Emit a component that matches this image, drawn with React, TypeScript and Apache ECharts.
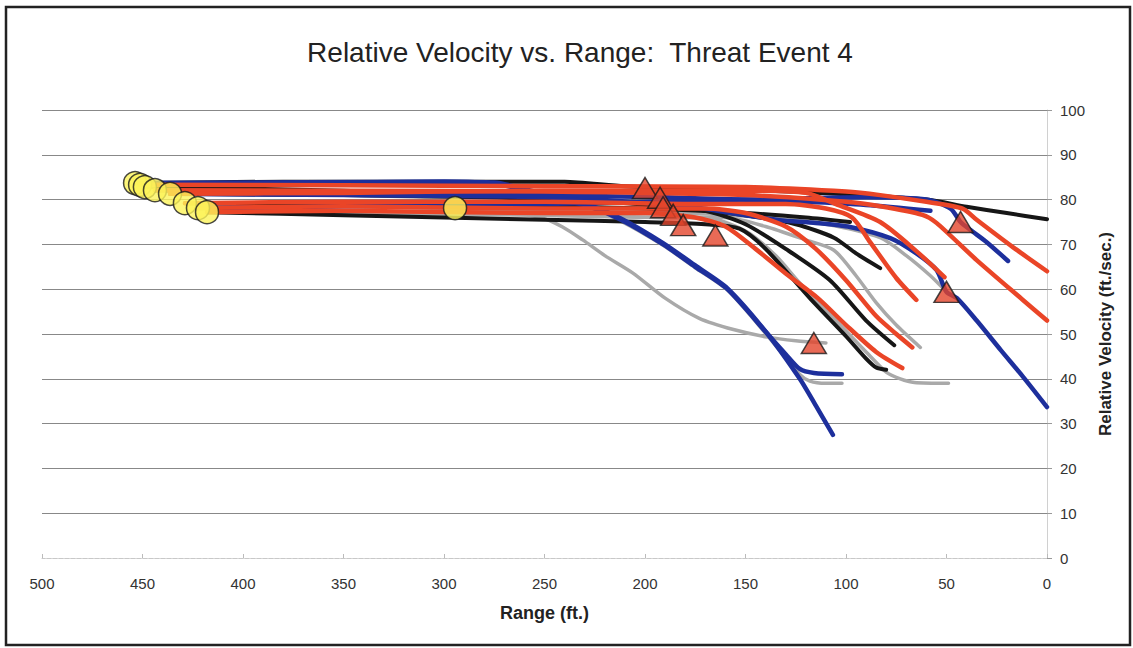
import React, { useEffect, useRef } from "react";
import * as echarts from "echarts";

// ---- data (Range ft., Relative Velocity ft/sec) ----
const startCircles = [
  [453.7, 83.7], [451.2, 83.3], [448.8, 82.8], [443.8, 82.1], [436.3, 81.3],
  [428.9, 79.2], [422.4, 78.1], [417.9, 77.2], [294.5, 78.1],
];
const eventTriangles = [
  [200, 82.6], [192.5, 80.4], [191, 78.3], [186, 76.6], [181, 74.3], [165, 72],
  [116, 48], [50, 59.4], [43, 75],
];

const black1 = [[453.7,83.7],[380,84],[300,84],[240,84],[210,83],[150,82.2],[100,81.2],[60,80],[40,78.4],[20,77],[0,75.6]];
const black2 = [[436.3,81.3],[350,81],[280,80.5],[220,79.5],[180,78],[150,76.5],[125,74.5],[106,71.5],[95,68],[83,64.7]];
const black3 = [[428.9,79.2],[350,79],[250,78.5],[200,78],[150,77],[120,76],[98,75]];
const black4 = [[417.9,77.2],[350,76.5],[250,75.5],[200,75],[170,74.5],[153,73.5],[140,69],[118,58],[100,49.5],[90,44.5],[85,42.5],[80,42]];
const black5 = [[448.8,82.8],[350,82],[260,80.5],[200,79],[170,77.5],[150,74.5],[130,69],[108,62],[90,53],[76,47.5]];

const red1 = [[451.2,83.3],[350,83.2],[250,83],[150,82.8],[100,81.8],[83,81],[60,79.5],[42,78],[35,75.5],[17,69.4],[0,64]];
const red2 = [[443.8,82.1],[350,82],[250,81.8],[150,81],[100,79.5],[83,78.5],[62,76.6],[55,74.8],[35,66.5],[12,57.6],[0,53]];
const red3 = [[436.3,81.3],[350,81.5],[250,82],[150,82],[120,81.5],[105,79],[83,75],[65,68.5],[51,62.7]];
const red4 = [[428.9,79.2],[350,79.5],[250,79.5],[170,79],[130,79],[110,78],[97,76],[88,70.5],[75,62.5],[65,57.6]];
const red5 = [[422.4,78.1],[350,78.5],[250,78],[170,78],[150,77],[130,74],[115,69],[100,62],[85,54],[75,50],[67,47]];
const red6 = [[417.9,77.2],[350,77.5],[250,77],[200,77],[175,76],[160,74],[145,69],[130,63.5],[114,58],[100,52],[85,46],[72,42.4]];

const blue1 = [[451.2,83.3],[300,84],[275,83.6],[255,81.5],[242,80],[228,78.5],[212,75.5],[191,70],[175,65],[159,60],[139,50],[130,45.5],[123,42.2],[116,41.3],[102,41]];
const blue2 = [[453.7,83.7],[300,84],[275,83.8],[255,81.8],[242,80.2],[228,78.8],[212,75.8],[191,70.3],[175,65.3],[159,60.2],[139,50],[123,40],[115,34],[106.5,27.5]];
const blue3 = [[436.3,81.3],[350,81],[250,80.5],[180,78.5],[150,76.5],[133,75.4],[115,74.8],[98,73.9],[78,71.4],[65,68],[55,64.3],[50,59.4],[44.8,58],[35,53],[23,46.4],[12,40.5],[0,33.7]];
const blue4 = [[443.8,82.1],[350,81.5],[250,81],[190,80.5],[153,80],[120,79.5],[90,78.8],[58,77.5]];
const blue5 = [[422.4,78.1],[350,78.5],[250,79],[150,80],[90,80.5],[60,80],[48,78],[43,75],[38,73.2],[30,70.5],[19.4,66.3]];

const gray1 = [[294.5,78.1],[270,77.2],[252,76],[241,73.9],[231,71],[220,67.5],[206,63.6],[190,58],[173,53.5],[156,51],[139,49.3],[125,48.5],[110,48]];
const gray2 = [[448.8,82.8],[350,81],[260,80],[242,79.8],[228,78.2],[212,75.2],[191,69.8],[175,64.8],[159,59.8],[139,49.6],[123,41],[118,39.5],[110,39],[102,39]];
const gray3 = [[422.4,78.1],[350,77.5],[250,76.5],[190,76],[170,76],[150,73],[135,67.5],[123,61.4],[105,53],[90,46],[80,41.5],[73,40],[66,39.2],[49,39]];
const gray4 = [[417.9,77.2],[350,77],[250,76.5],[180,76],[160,76],[140,74],[120,71],[106,68.7],[95,63],[85,57],[75,52],[63,47]];
const gray5 = [[428.9,79.2],[350,78.5],[250,77.5],[180,77],[140,76],[110,74.5],[83,71.5],[70,67.5],[58,63],[50,59.4]];

const BLACK = "#161616";
const RED = "#ea4527";
const BLUE = "#1d2f9c";
const GRAY = "#a9a9a9";

const traces = [
  { data: gray1, color: GRAY, w: 3.5 },
  { data: gray2, color: GRAY, w: 3.5 },
  { data: gray3, color: GRAY, w: 3.5 },
  { data: gray4, color: GRAY, w: 3.5 },
  { data: gray5, color: GRAY, w: 3.5 },
  { data: black1, color: BLACK, w: 4 },
  { data: black2, color: BLACK, w: 4 },
  { data: black3, color: BLACK, w: 4 },
  { data: black4, color: BLACK, w: 4 },
  { data: black5, color: BLACK, w: 4 },
  { data: blue1, color: BLUE, w: 4.5 },
  { data: blue2, color: BLUE, w: 4.5 },
  { data: blue3, color: BLUE, w: 4.5 },
  { data: blue4, color: BLUE, w: 4.5 },
  { data: blue5, color: BLUE, w: 4.5 },
  { data: red1, color: RED, w: 4.5 },
  { data: red2, color: RED, w: 4.5 },
  { data: red3, color: RED, w: 4.5 },
  { data: red4, color: RED, w: 4.5 },
  { data: red5, color: RED, w: 4.5 },
  { data: red6, color: RED, w: 4.5 },
];

const FONT = "'Liberation Sans', Arial, sans-serif";

export default function App() {
  const ref = useRef<HTMLDivElement>(null);
  useEffect(() => {
    if (!ref.current) return;
    const chart = echarts.init(ref.current, undefined, { renderer: "svg" });
    const lineSeries = traces.map((t) => ({
      type: "line",
      data: t.data,
      showSymbol: false,
      smooth: 0.25,
      lineStyle: { color: t.color, width: t.w, cap: "round", join: "round" },
      itemStyle: { color: t.color },
      z: 2,
    }));
    chart.setOption({
      animation: false,
      backgroundColor: "#ffffff",
      textStyle: { fontFamily: FONT },
      title: {
        text: "Relative Velocity vs. Range:  Threat Event 4",
        left: 575,
        top: 33,
        textAlign: "center",
        textStyle: { fontFamily: FONT, fontSize: 28, fontWeight: "normal", color: "#222" },
      },
      grid: { left: 42, right: 86, top: 110, bottom: 90, containLabel: false },
      xAxis: {
        type: "value",
        inverse: true,
        min: 0,
        max: 500,
        interval: 50,
        name: "Range (ft.)",
        nameLocation: "middle",
        nameGap: 46,
        nameTextStyle: { fontFamily: FONT, fontSize: 18, fontWeight: "bold", color: "#222" },
        axisLine: { show: true, lineStyle: { color: "#c8c8c8", type: "dashed", width: 1 } },
        axisTick: { show: true, inside: true, length: 4, lineStyle: { color: "#bbb" } },
        axisLabel: { margin: 18, fontFamily: FONT, fontSize: 15, color: "#333" },
        splitLine: { show: false },
      },
      yAxis: {
        type: "value",
        position: "right",
        min: 0,
        max: 100,
        interval: 10,
        name: "Relative Velocity (ft./sec.)",
        nameLocation: "middle",
        nameRotate: 90,
        nameGap: 50,
        nameTextStyle: { fontFamily: FONT, fontSize: 17, fontWeight: "bold", color: "#222" },
        axisLine: { show: true, lineStyle: { color: "#d0d0d0", width: 1 } },
        axisTick: { show: true, length: 5, lineStyle: { color: "#999" } },
        axisLabel: { margin: 13, fontFamily: FONT, fontSize: 15, color: "#333" },
        splitLine: {
          show: true,
          lineStyle: {
            color: ["#dddddd", "#888", "#888", "#888", "#888", "#888", "#888", "#888", "#888", "#888", "#888"],
            width: 1,
          },
        },
      },
      graphic: [
        {
          type: "rect",
          shape: { x: 6, y: 7, width: 1124, height: 638 },
          style: { fill: "none", stroke: "#222", lineWidth: 2.5 },
          silent: true,
          z: 100,
        },
      ],
      series: [
        ...lineSeries,
        {
          type: "scatter",
          data: startCircles,
          symbol: "circle",
          symbolSize: 23,
          itemStyle: { color: "#fcf45a", borderColor: "#1a1a1a", borderWidth: 1.5 },
          z: 5,
        },
        {
          type: "scatter",
          data: eventTriangles,
          symbol: "triangle",
          symbolSize: [25, 21],
          itemStyle: { color: "#e4452c", borderColor: "#1a1a1a", borderWidth: 1.5 },
          z: 6,
        },
      ],
    });
    return () => chart.dispose();
  }, []);
  return (
    <div
      ref={ref}
      style={{ position: "fixed", left: 0, top: 0, width: 1133, height: 648, background: "#fff" }}
    />
  );
}
